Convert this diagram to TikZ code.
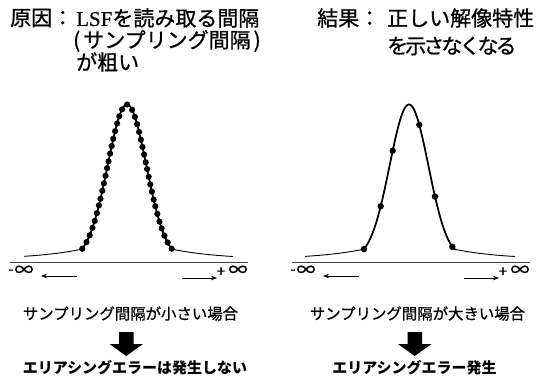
\documentclass[tikz,border=0pt]{standalone}
\usepackage{fontspec}
\newfontfamily\jpf[FakeBold=0.8]{Noto Sans CJK JP}
\newfontfamily\jpb{Noto Sans CJK JP}
\newfontfamily\jpt[LetterSpace=-14,FakeBold=0.8]{Noto Sans CJK JP}
\newfontfamily\lsfserif[FakeBold=0.5]{Liberation Serif}
\usetikzlibrary{arrows.meta}
\begin{document}
\begin{tikzpicture}[x=1pt,y=-1pt,
  declare function={G(\t)=155*exp(-(\t)*(\t)/750); T(\t)=26*exp(-abs(\t)/49); H(\t)=max(G(\t),T(\t));},
  title/.style={font=\jpf\fontsize{21}{21}\selectfont, anchor=west, inner sep=0pt},
  capt/.style={font=\jpf\fontsize{15.4}{16}\selectfont, inner sep=0pt},
  res/.style={font=\jpb\bfseries\fontsize{15}{16}\selectfont, inner sep=0pt},
  inf/.style={font=\jpf\fontsize{19}{19}\selectfont, inner sep=0pt},
  sgn/.style={font=\jpf\fontsize{15}{15}\selectfont, inner sep=0pt},
  axisline/.style={draw=black!75, line width=0.9pt},
  tailline/.style={line width=0.9pt},
  coreline/.style={line width=1.7pt},
  dirarrow/.style={-{Stealth[length=6pt,width=4.5pt]}, line width=0.8pt},
  blockarrow/.style={fill=black},
]
\useasboundingbox (0,0) rectangle (550,380);

% titles
\node[title] (cause) at (10,18) {原因：};
\node[title] (causeA) at (76,18) {{\lsfserif LSF}を読み取る間隔};
\node[title] (causeB) at (73,41) {(\hspace{3pt}サンプリング間隔\hspace{3pt})};
\node[title] (causeC) at (76,62) {が粗い};
\node[title] (result) at (317,18) {結果：};
\node[title] (resultA) at (387,18) {正しい解像特性};
\node[title, font=\jpt\fontsize{21}{21}\selectfont] (resultB) at (387,46) {を示さなくなる};

% left panel
\coordinate (LaxL) at (10,262.5);
\coordinate (LaxR) at (248,262.5);
\draw[axisline] (LaxL) -- (LaxR);
\draw[tailline] plot[domain=-103:106, samples=140, smooth] ({127+\x},{259.5-H(\x)});
\draw[coreline] plot[domain=-47:47, samples=90, smooth] ({127+\x},{259.5-H(\x)});
% dots evenly spaced along the arc
\xdef\dAcc{0}\xdef\dPx{-44.7}\pgfmathsetmacro\dTmp{H(-44.7)}\xdef\dPy{\dTmp}
\foreach \i in {1,...,447}{
  \pgfmathsetmacro\dCx{-44.7+\i*0.2}
  \pgfmathsetmacro\dCy{H(\dCx)}
  \pgfmathsetmacro\dNa{\dAcc+veclen(\dCx-\dPx,\dCy-\dPy)}
  \xdef\dAcc{\dNa}\xdef\dPx{\dCx}\xdef\dPy{\dCy}
}
\pgfmathsetmacro\dSp{\dAcc/40}\xdef\dSpacing{\dSp}
\fill ({127-44.7},{259.5-H(-44.7)}) circle (3.1pt);
\fill ({127+44.7},{259.5-H(44.7)}) circle (3.1pt);
\xdef\dAcc{0}\xdef\dPx{-44.7}\xdef\dPy{\dTmp}\xdef\dTarget{\dSpacing}
\foreach \i in {1,...,440}{
  \pgfmathsetmacro\dCx{-44.7+\i*0.2}
  \pgfmathsetmacro\dCy{H(\dCx)}
  \pgfmathsetmacro\dNa{\dAcc+veclen(\dCx-\dPx,\dCy-\dPy)}
  \xdef\dAcc{\dNa}\xdef\dPx{\dCx}\xdef\dPy{\dCy}
  \ifdim\dAcc pt<\dTarget pt\relax\else
    \fill ({127+\dCx},{259.5-\dCy}) circle (3.1pt);
    \pgfmathsetmacro\dNt{\dTarget+\dSpacing}\xdef\dTarget{\dNt}
  \fi
}
\node[sgn] (LminusA) at (11,272) {-};
\node[inf] (LinfA) at (24,271) {∞};
\node[sgn] (LplusA) at (221,272) {+};
\node[inf] (LinfB) at (238,271) {∞};
\coordinate (LarL0) at (77,276);
\coordinate (LarL1) at (41,276);
\draw[dirarrow] (LarL0) -- (LarL1);
\coordinate (LarR0) at (182,278);
\coordinate (LarR1) at (217,278);
\draw[dirarrow] (LarR0) -- (LarR1);

% right panel
\coordinate (RaxL) at (292,262.5);
\coordinate (RaxR) at (530,262.5);
\draw[axisline] (RaxL) -- (RaxR);
\draw[tailline] plot[domain=-104:106, samples=140, smooth] ({409+\x},{259.5-H(\x)});
\draw[coreline] plot[domain=-47:47, samples=90, smooth] ({409+\x},{259.5-H(\x)});
\foreach \d in {-45,-28.3,-16.3,10.3,26,43.3}
  \fill ({409+\d},{259.5-H(\d)}) circle (3.2pt);
\node[sgn] (RminusA) at (293,272) {-};
\node[inf] (RinfA) at (306,271) {∞};
\node[sgn] (RplusA) at (503,272) {+};
\node[inf] (RinfB) at (520,271) {∞};
\coordinate (RarL0) at (359,276);
\coordinate (RarL1) at (323,276);
\draw[dirarrow] (RarL0) -- (RarL1);
\coordinate (RarR0) at (464,278);
\coordinate (RarR1) at (499,278);
\draw[dirarrow] (RarR0) -- (RarR1);

% bottom texts
\node[capt] (smallcase) at (130.5,313.5) {サンプリング間隔が小さい場合};
\node[res] (noalias) at (135,368) {エリアシングエラーは発生しない};
\node[capt] (largecase) at (417.5,313.5) {サンプリング間隔が大きい場合};
\node[res] (alias) at (414.5,368) {エリアシングエラー発生};

% block arrows
\fill[blockarrow] (119,332) -- (133.5,332) -- (133.5,344) -- (143,344) -- (126.2,356) -- (109.5,344) -- (119,344) -- cycle;
\fill[blockarrow] (407.5,332) -- (422,332) -- (422,344) -- (431.5,344) -- (414.7,356) -- (398,344) -- (407.5,344) -- cycle;
\end{tikzpicture}
\end{document}
